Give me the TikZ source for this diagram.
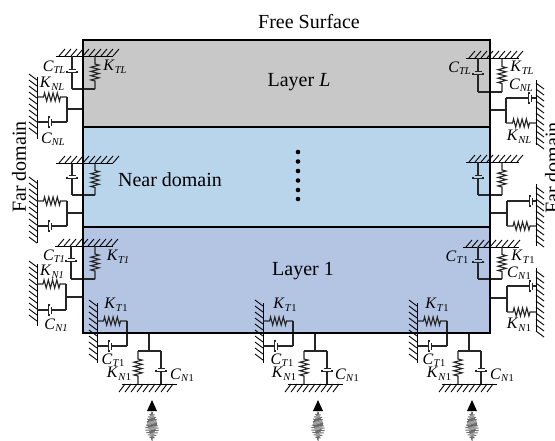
\documentclass[tikz,border=0pt]{standalone}
\usepackage{fontspec}
\setmainfont{Liberation Serif}
\usetikzlibrary{decorations.pathmorphing,arrows.meta}
\definecolor{laygrey}{HTML}{C8C8C8}
\definecolor{laylight}{HTML}{B9D5EC}
\definecolor{laydark}{HTML}{B4C5E4}
\definecolor{wire}{HTML}{262626}
\tikzset{
  x=1pt,y=-1pt,
  wirel/.style={draw=wire,line width=1.1pt},
  hatchl/.style={draw=black,line width=0.9pt},
  txt/.style={font=\fontsize{20}{20}\selectfont,inner sep=0pt},
  lbl/.style={inner sep=0pt},
}
\newcommand{\lab}[2]{{\fontsize{16}{16}\selectfont\textit{#1}}\raisebox{-2.5pt}{\fontsize{10.5}{10.5}\selectfont\textit{#2}}}
\newcommand{\upone}{\textup{1}}
% spring between two points, coil in the middle
\newcommand{\coil}[4]{\pgfmathsetmacro\cl{(veclen(#3-#1,#4-#2)-17)/2}
  \draw[wirel,decorate,decoration={zigzag,segment length=4.25pt,amplitude=4.2pt,pre length=\cl pt,post length=\cl pt}] (#1,#2)--(#3,#4);}
% horizontal ground: x1,x2,y, hatches up
\newcommand{\gup}[3]{\draw[hatchl] (#1,#3)--(#2,#3);
  \foreach \i in {#1,...,#2}{\pgfmathparse{int(mod(\i-#1,6))}\ifnum\pgfmathresult=3 \draw[hatchl] (\i,#3)--(\i+6,#3-7);\fi}}
% hatches down
\newcommand{\gdn}[3]{\draw[hatchl] (#1,#3)--(#2,#3);
  \foreach \i in {#1,...,#2}{\pgfmathparse{int(mod(\i-#1,6))}\ifnum\pgfmathresult=3 \draw[hatchl] (\i,#3)--(\i-6,#3+8);\fi}}
% vertical wall: x,y1,y2, hatches left
\newcommand{\wallL}[3]{\draw[hatchl] (#1,#2)--(#1,#3);
  \foreach \i in {#2,...,#3}{\pgfmathparse{int(mod(\i-#2,6))}\ifnum\pgfmathresult=3 \draw[hatchl] (#1,\i)--(#1-8,\i-6);\fi}}
% vertical wall: x,y1,y2, hatches right
\newcommand{\wallR}[3]{\draw[hatchl] (#1,#2)--(#1,#3);
  \foreach \i in {#2,...,#3}{\pgfmathparse{int(mod(\i-#2,6))}\ifnum\pgfmathresult=3 \draw[hatchl] (#1,\i)--(#1+8,\i+6);\fi}}
% vertical damper x,y1,y2,yb
\newcommand{\dampv}[4]{\draw[wirel] (#1,#2)--(#1,#4-1.5) (#1,#4+1.5)--(#1,#3);
  \draw[wirel,line width=1.4pt] (#1-3.5,#4-1.5)--(#1+3.5,#4-1.5);
  \draw[wirel] (#1-5,#4-0.5)--(#1-5,#4+1.5)--(#1+5,#4+1.5)--(#1+5,#4-0.5);}
% horizontal damper y,x1,x2,xb
\newcommand{\damph}[4]{\draw[wirel] (#2,#1)--(#4-1.5,#1) (#4+1.5,#1)--(#3,#1);
  \draw[wirel,line width=1.4pt] (#4+1.5,#1-3.5)--(#4+1.5,#1+3.5);
  \draw[wirel] (#4,#1-5)--(#4-1.5,#1-5)--(#4-1.5,#1+5)--(#4,#1+5);}
% tangential unit: ground x1,x2,y; damper x, spring x, bottom y, damper body y
\newcommand{\tang}[7]{\gup{#1}{#2}{#3}
  \dampv{#4}{#3}{#6}{#7}
  \draw[wirel] (#4,#6)--(#5,#6);
  \coil{#5}{#3}{#5}{#6}}
% normal unit left: wall x,y1,y2; spring y, damper y, join x, connector y
\newcommand{\normL}[7]{\wallL{#1}{#2}{#3}
  \coil{#1}{#4}{#6}{#4}
  \damph{#5}{#1}{#6}{#1+13}
  \draw[wirel] (#6,#4)--(#6,#5) (#6,#7)--(83,#7);}
% normal unit right
\newcommand{\normR}[7]{\wallR{#1}{#2}{#3}
  \coil{#6}{#4}{#1}{#4}
  \damph{#5}{#6}{#1}{#6+24}
  \draw[wirel] (#6,#5)--(#6,#4) (#6,#7)--(490,#7);}
% base unit: dx offset
\newcommand{\baseunit}[1]{%
  \begin{scope}[xshift=#1pt]
  \wallL{97}{303}{363}
  \coil{97}{321}{127}{321}
  \draw[wirel] (127,321)--(127,346);
  \damph{346}{97}{127}{110}
  \draw[wirel] (149,333)--(149,351);
  \draw[wirel] (138,351)--(161,351);
  \coil{138}{351}{138}{384}
  \dampv{161}{351}{384}{370}
  \gdn{122}{177}{384}
  \fill[black] (152,400)--(157,411)--(147,411)--cycle;
  \foreach \k in {0,...,23}{
    \pgfmathsetmacro\wv{(1+6.5*sin(180*\k/23))*(0.72+0.28*cos(\k*170))}
    \draw[gray!85!black,line width=1pt] ({152-\wv},{412+1.2*\k})--({152+\wv},{412.6+1.2*\k});}
  \end{scope}}
\begin{document}
\begin{tikzpicture}
\useasboundingbox (0,0) rectangle (555,440);
\fill[laygrey] (83,40) rectangle (490,127);
\fill[laylight] (83,127) rectangle (490,227);
\fill[laydark] (83,227) rectangle (490,333);
% left
\tang{56}{113}{56}{72}{95}{89}{71}
\normL{37}{77}{139}{97}{122}{67}{109}
\tang{56}{113}{163}{72}{95}{195}{177}
\normL{37}{180}{243}{201}{226}{67}{213}
\tang{55}{113}{246}{71}{95}{279}{260}
\normL{37}{264}{326}{284}{310}{66}{297}
% right
\tang{466}{519}{58}{478}{502}{92}{73}
\normR{536}{80}{145}{123}{98}{506}{110}
\tang{466}{519}{162}{478}{502}{195}{177}
\normR{536}{184}{246}{226}{201}{507}{213}
\tang{463}{519}{247}{478}{502}{279}{261}
\normR{536}{268}{331}{312}{286}{507}{298}
\baseunit{0}\baseunit{166}\baseunit{320}
\draw[black,line width=1.3pt] (83,40) rectangle (490,333);
\draw[black,line width=1.1pt] (83,127)--(490,127) (83,227)--(490,227);
\foreach \yy in {152,161.5,171,180.5,190,199}{\fill (298,\yy) circle (2.3);}
\node[txt] (free) at (309,22) {Free Surface};
\node[txt] (layL) at (299,82) {Layer \textit{L}};
\node[txt] (near) at (170,180) {Near domain};
\node[txt] (lay1) at (303,271) {Layer 1};
\node[txt,rotate=90] (farL) at (19,167) {Far domain};
\node[txt,rotate=90] (farR) at (552,168) {Far domain};
\node[lbl] (a1) at (54,67) {\lab{C}{TL}};
\node[lbl] (a2) at (115,67) {\lab{K}{TL}};
\node[lbl] (a3) at (52,84) {\lab{K}{NL}};
\node[lbl] (a4) at (53,139) {\lab{C}{NL}};
\node[lbl] (a5) at (54,256) {\lab{C}{T1}};
\node[lbl] (a6) at (118,257) {\lab{K}{T1}};
\node[lbl] (a7) at (52,272) {\lab{K}{N1}};
\node[lbl] (a8) at (56,325) {\lab{C}{N1}};
\node[lbl] (b1) at (459.5,68) {\lab{C}{TL}};
\node[lbl] (b2) at (522,68) {\lab{K}{TL}};
\node[lbl] (b3) at (521,85) {\lab{C}{NL}};
\node[lbl] (b4) at (519,137) {\lab{K}{NL}};
\node[lbl] (b5) at (457,257) {\lab{C}{T\upone}};
\node[lbl] (b6) at (523,257) {\lab{K}{T\upone}};
\node[lbl] (b7) at (519,273) {\lab{C}{N\upone}};
\node[lbl] (b8) at (519,325) {\lab{K}{N\upone}};
\foreach \dx/\du/\nm in {0/0/p,169/165/q,321/320/r}{
  \node[lbl] (\nm1) at (116+\dx,305) {\lab{K}{T\upone}};
  \node[lbl] (\nm2) at (113+\dx,360) {\lab{C}{T\upone}};
  \node[lbl] (\nm3) at (119+\du,374) {\lab{K}{N\upone}};
  \node[lbl] (\nm4) at (182+\du,375) {\lab{C}{N\upone}};
}
\end{tikzpicture}
\end{document}
